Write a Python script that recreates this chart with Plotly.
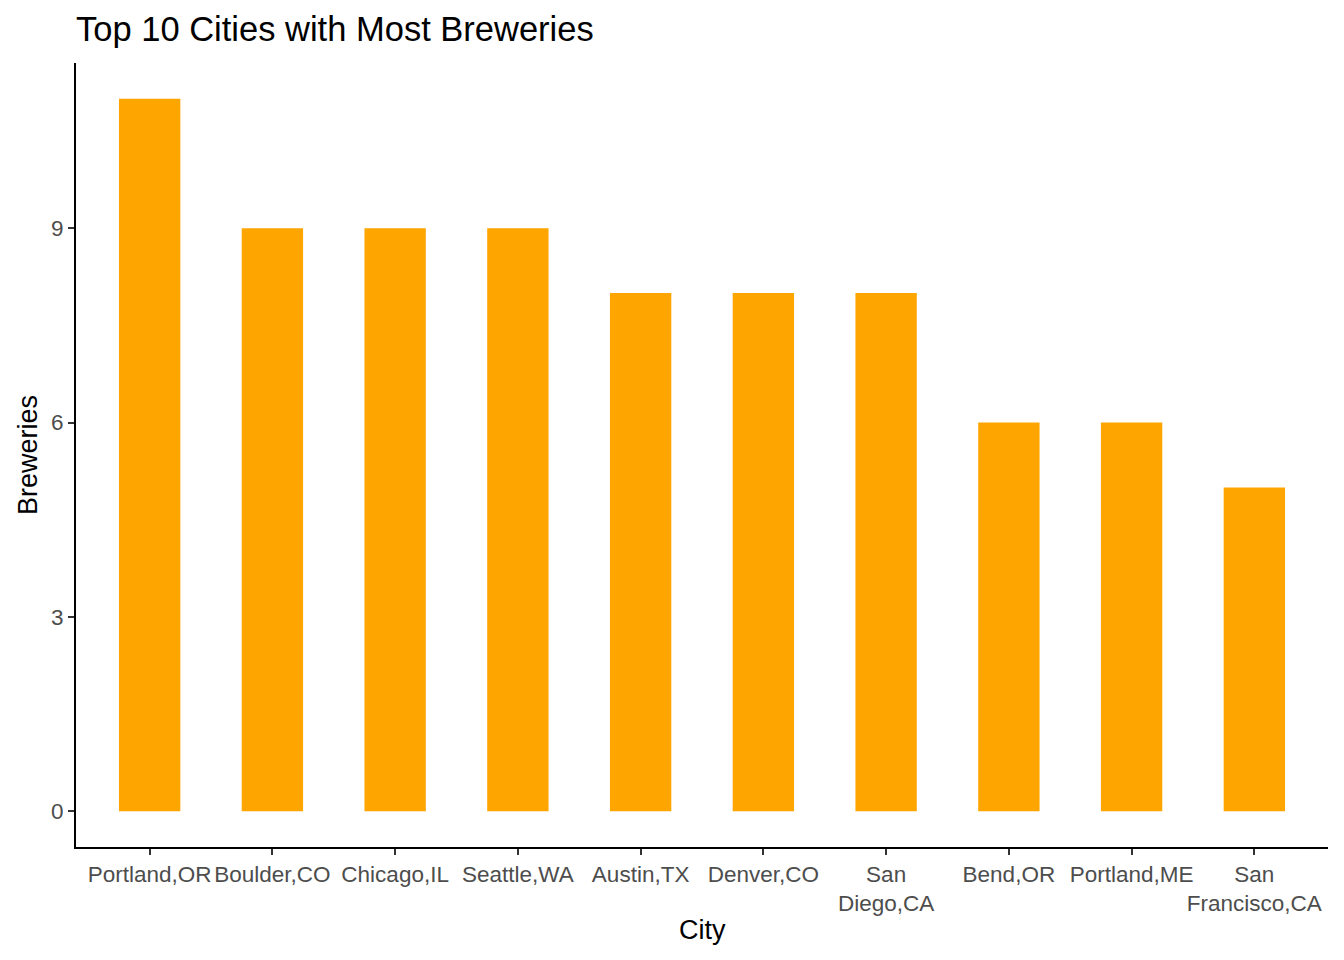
import plotly.graph_objects as go

cities = ["Portland,OR", "Boulder,CO", "Chicago,IL", "Seattle,WA", "Austin,TX",
          "Denver,CO", "San Diego,CA", "Bend,OR", "Portland,ME", "San Francisco,CA"]
tick_labels = ["Portland,OR", "Boulder,CO", "Chicago,IL", "Seattle,WA", "Austin,TX",
               "Denver,CO", "San<br>Diego,CA", "Bend,OR", "Portland,ME", "San<br>Francisco,CA"]
breweries = [11, 9, 9, 9, 8, 8, 8, 6, 6, 5]
y_ticks = [0, 3, 6, 9]

FONT = "Liberation Sans, Arial, sans-serif"

fig = go.Figure(go.Bar(x=cities, y=breweries, width=0.5,
                       marker=dict(color="#FFA500", line=dict(width=0))))

fig.update_layout(
    width=1344, height=960,
    paper_bgcolor="white", plot_bgcolor="white",
    margin=dict(l=76, r=16, t=63, b=113),
    showlegend=False,
    font=dict(family=FONT),
    title=dict(text="Top 10 Cities with Most Breweries", x=76/1344, xref="container",
               xanchor="left", y=1-29/960, yanchor="middle",
               font=dict(size=34.5, color="black", family=FONT)),
)
fig.update_xaxes(
    type="category", categoryorder="array", categoryarray=cities,
    tickvals=cities, ticktext=tick_labels, tickangle=0,
    range=[-0.6, 9.6], showgrid=False, zeroline=False,
    showline=True, linecolor="black", linewidth=2,
    ticks="outside", ticklen=6, tickwidth=2, tickcolor="#333333",
    tickfont=dict(size=22.5, color="#4D4D4D", family=FONT),
)
fig.update_yaxes(
    range=[-0.55, 11.55], tickvals=y_ticks, showgrid=False, zeroline=False,
    showline=True, linecolor="black", linewidth=2,
    ticks="outside", ticklen=6, tickwidth=2, tickcolor="#333333",
    tickfont=dict(size=22.5, color="#4D4D4D", family=FONT),
)
fig.add_annotation(text="City", xref="paper", yref="paper", x=0.5, y=-83/784,
                   xanchor="center", yanchor="middle", showarrow=False,
                   font=dict(size=27, color="black", family=FONT))
fig.add_annotation(text="Breweries", xref="paper", yref="paper", x=-48/1252, y=0.5,
                   xanchor="center", yanchor="middle", showarrow=False, textangle=-90,
                   font=dict(size=27, color="black", family=FONT))

fig.write_html("out.html", config={"displayModeBar": False},
               post_script="document.body.style.margin='0';document.body.style.overflow='hidden';")
